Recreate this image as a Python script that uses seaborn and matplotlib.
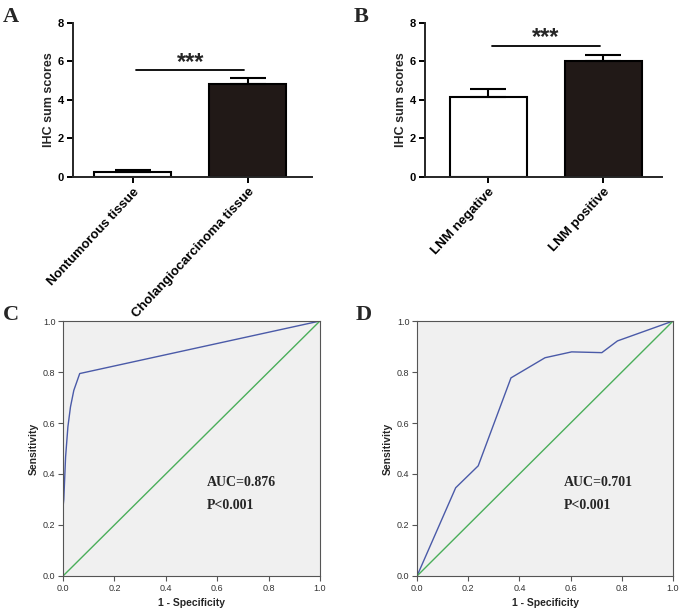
import numpy as np
import pandas as pd
import seaborn as sns
import matplotlib

matplotlib.use("Agg")
import matplotlib.pyplot as plt

# panel A: IHC scores, tumour vs normal
a_groups = ["Nontumorous tissue", "Cholangiocarcinoma tissue"]
a_mean = [0.27, 4.82]
a_sem = [0.10, 0.30]

# panel B: IHC scores by lymph node metastasis
b_groups = ["LNM negative", "LNM positive"]
b_mean = [4.15, 6.0]
b_sem = [0.40, 0.34]

# panel C / D: ROC curves
c_fpr = [0.0, 0.0, 0.003, 0.010, 0.019, 0.029, 0.042, 0.065, 1.0]
c_tpr = [0.0, 0.27, 0.30, 0.467, 0.585, 0.663, 0.728, 0.794, 1.0]
d_fpr = [0.0, 0.151, 0.239, 0.367, 0.50, 0.604, 0.722, 0.783, 1.0]
d_tpr = [0.0, 0.346, 0.432, 0.777, 0.856, 0.879, 0.876, 0.922, 1.0]
ref_line = [0.0, 1.0]

sns.set_style("ticks")
plt.rcParams["font.family"] = ["Liberation Sans", "DejaVu Sans"]

fig = plt.figure(figsize=(6.85, 6.13), dpi=100)


def plot_bars(ax, groups, means, sems, sig_y, star_y, xlim):
    df = pd.DataFrame({"group": groups, "score": means})
    sns.barplot(data=df, x="group", y="score", hue="group",
                palette=["white", "#231815"], edgecolor="black", linewidth=1.5,
                width=0.67, errorbar=None, legend=False, ax=ax)
    ax.errorbar(range(len(groups)), means, yerr=[np.zeros(len(sems)), sems],
                fmt="none", ecolor="black", elinewidth=1.5, capsize=13, capthick=1.5)
    ax.plot([0.03, 0.97], [sig_y, sig_y], color="black", lw=1.3)
    ax.text(0.5, star_y, "***", ha="center", va="center", fontsize=17,
            fontweight="bold")
    ax.set_xlim(xlim)
    ax.set_ylim(0, 8)
    ax.set_yticks([0, 2, 4, 6, 8])
    ax.set_xlabel("")
    ax.set_ylabel("IHC sum scores", fontsize=9, fontweight="bold", labelpad=2)
    ax.set_xticks(range(len(groups)))
    ax.set_xticklabels(groups, rotation=47, ha="right", rotation_mode="anchor",
                       fontsize=9.5, fontweight="bold")
    for lab in ax.get_yticklabels():
        lab.set_fontweight("bold")
        lab.set_fontsize(8)
    sns.despine(ax=ax)
    for side in ["left", "bottom"]:
        ax.spines[side].set_linewidth(1.4)
    ax.tick_params(width=1.4, length=4.5, pad=2, colors="black")


def plot_roc(ax, fpr, tpr, auc_text, text_x):
    ax.set_facecolor("#f0f0f0")
    sns.lineplot(x=fpr, y=tpr, sort=False, estimator=None, color="#4a5aa8",
                 lw=1, ax=ax)
    sns.lineplot(x=ref_line, y=ref_line, sort=False, estimator=None,
                 color="#4aae5a", lw=1, ax=ax)
    ax.set_xlim(0, 1)
    ax.set_ylim(0, 1)
    ticks = np.arange(0, 1.01, 0.2)
    ax.set_xticks(ticks)
    ax.set_yticks(ticks)
    ax.set_xticklabels([f"{t:.1f}" for t in ticks], fontsize=6.5, color="#333333")
    ax.set_yticklabels([f"{t:.1f}" for t in ticks], fontsize=6.5, color="#333333")
    ax.tick_params(length=3.5, width=0.8, pad=2, color="#555555")
    for sp in ax.spines.values():
        sp.set_color("#555555")
        sp.set_linewidth(0.8)
    ax.set_xlabel("1 - Specificity", fontsize=7.5, fontweight="bold")
    ax.set_ylabel("Sensitivity", fontsize=7.5, fontweight="bold", labelpad=3)
    ax.text(text_x, 0.366, auc_text, fontsize=10, fontweight="bold",
            family="Liberation Serif", va="center")
    ax.text(text_x, 0.278, "P<0.001", fontsize=10, fontweight="bold",
            family="Liberation Serif", va="center")


ax_a = fig.add_axes([0.1066, 0.7113, 0.349, 0.2512])
plot_bars(ax_a, a_groups, a_mean, a_sem, 5.56, 5.95, (-0.52, 1.56))

ax_b = fig.add_axes([0.6204, 0.7113, 0.346, 0.2512])
plot_bars(ax_b, b_groups, b_mean, b_sem, 6.82, 7.25, (-0.55, 1.51))

ax_c = fig.add_axes([0.092, 0.0604, 0.375, 0.4159])
plot_roc(ax_c, c_fpr, c_tpr, "AUC=0.876", 0.56)

ax_d = fig.add_axes([0.6088, 0.0604, 0.3737, 0.4159])
plot_roc(ax_d, d_fpr, d_tpr, "AUC=0.701", 0.574)

for label, x, y in [("A", 0.004, 0.988), ("B", 0.516, 0.988),
                    ("C", 0.004, 0.502), ("D", 0.519, 0.502)]:
    fig.text(x, y, label, fontsize=16, fontweight="bold",
             family="Liberation Serif", va="top", ha="left")

fig.savefig("out.png", dpi=100)
